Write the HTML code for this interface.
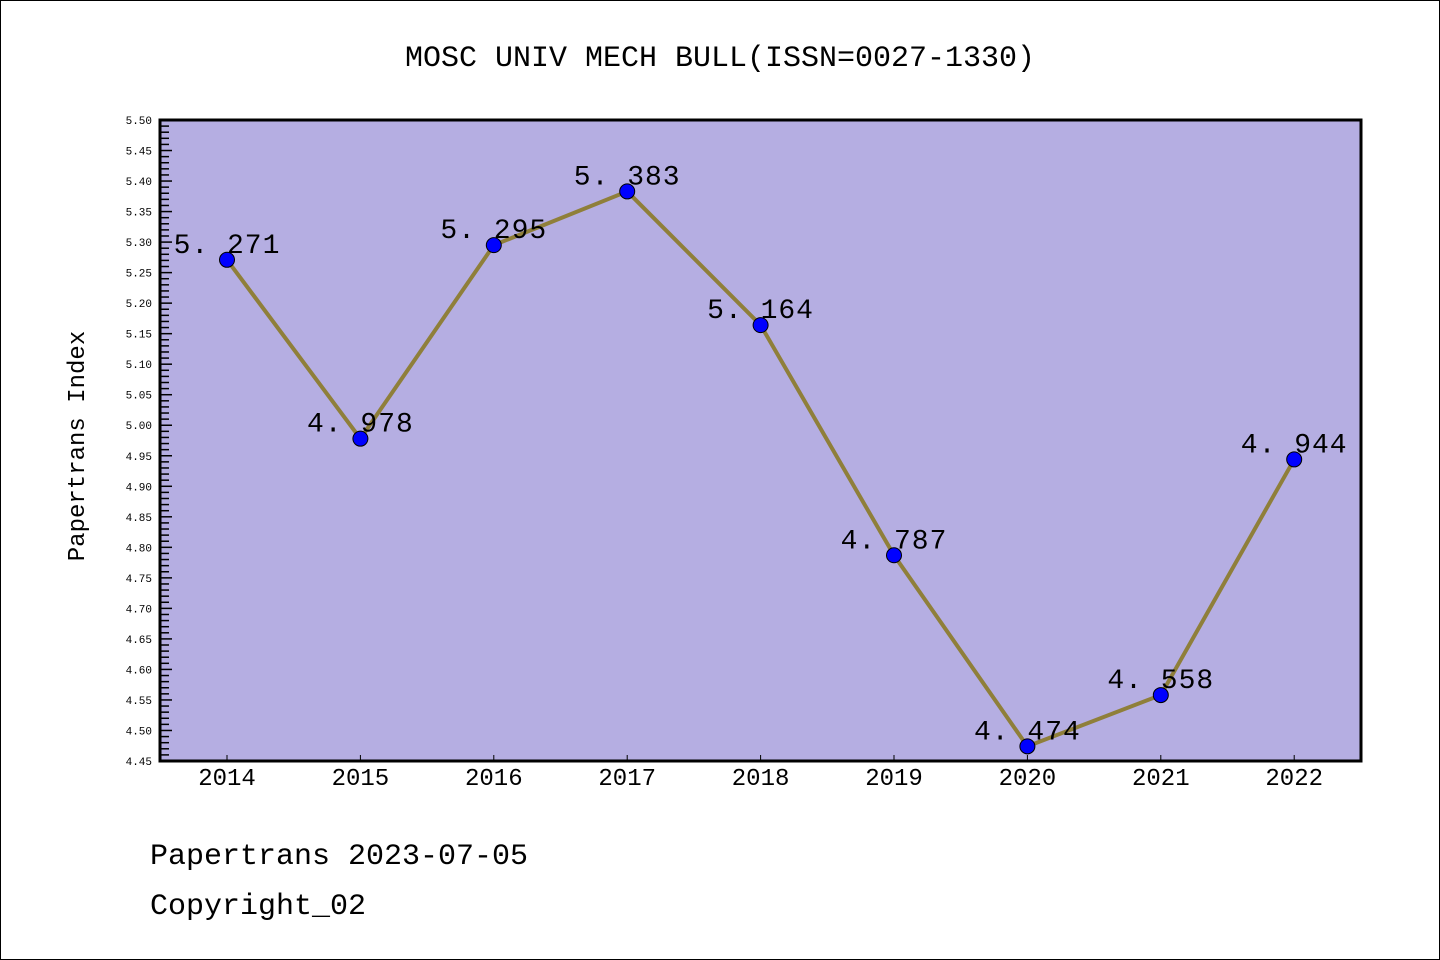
<!DOCTYPE html>
<html><head><meta charset="utf-8"><style>
body{margin:0;background:#fff}
svg{display:block}
text{font-family:"Liberation Mono","WenQuanYi Zen Hei",monospace}
</style></head><body>
<svg id="chart" width="1440" height="960" viewBox="0 0 1440 960" xmlns="http://www.w3.org/2000/svg">
<rect x="0.5" y="0.5" width="1439" height="959" fill="#fff" stroke="#000"/>
<text x="720" y="66" font-size="30" text-anchor="middle">MOSC UNIV MECH BULL(ISSN=0027-1330)</text>
<rect x="160" y="120" width="1201" height="641" fill="#b5aee2"/>
<g id="yaxis"></g>
<g id="xaxis"></g>
<g id="series"></g>
<rect x="160" y="120" width="1201" height="641" fill="none" stroke="#000" stroke-width="3"/>
<text transform="translate(84,446) rotate(-90)" font-size="24" text-anchor="middle">Papertrans Index</text>
<text x="150" y="864" font-size="30">Papertrans 2023-07-05</text>
<text x="150" y="914" font-size="30">Copyright_02</text>
</svg>
<script>
const categories=["2014","2015","2016","2017","2018","2019","2020","2021","2022"];
const values=[5.271,4.978,5.295,5.383,5.164,4.787,4.474,4.558,4.944];
const yTickLabels=["4.45","4.50","4.55","4.60","4.65","4.70","4.75","4.80","4.85","4.90","4.95","5.00","5.05","5.10","5.15","5.20","5.25","5.30","5.35","5.40","5.45","5.50"];
const NS="http://www.w3.org/2000/svg";
const yMin=4.45,yMax=5.50,yTop=120,yBot=761,xLeft=160;
const x0=227,xStep=133.4;
function y(v){return yBot-(v-yMin)/(yMax-yMin)*(yBot-yTop);}
function x(i){return x0+i*xStep;}
function mk(tag,attrs,parent){const e=document.createElementNS(NS,tag);for(const k in attrs)e.setAttribute(k,attrs[k]);parent.appendChild(e);return e;}
const ya=document.getElementById('yaxis'),xa=document.getElementById('xaxis'),sg=document.getElementById('series');
for(let k=0;k<=105;k++){
  const v=yMin+k*0.01,yy=y(v),major=k%5===0;
  const t=mk('line',{x1:xLeft,x2:xLeft+(major?12:9),y1:yy,y2:yy,stroke:'#000','stroke-width':1.5},ya);
  
  
}
yTickLabels.forEach(l=>{
  const t=mk('text',{x:152,y:y(parseFloat(l))+4,'font-size':11,'text-anchor':'end','font-family':'Liberation Sans'},ya);
  t.textContent=l;
  
  
});
categories.forEach((c,i)=>{
  const tk=mk('line',{x1:x(i),x2:x(i),y1:yBot,y2:yBot-6,stroke:'#000','stroke-width':1},xa);
  
  
  const t=mk('text',{x:x(i),y:785,'font-size':24,'text-anchor':'middle','font-family':'Liberation Sans'},xa);
  t.textContent=c;
  
  
});
const line=mk('polyline',{points:values.map((v,i)=>x(i)+','+y(v)).join(' '),fill:'none',stroke:'#8f7f3a','stroke-width':4},sg);


values.forEach((v,i)=>{
  const c=mk('circle',{cx:x(i),cy:y(v),r:7.5,fill:'#0000ff',stroke:'#000','stroke-width':1},sg);
  
  
  const t=mk('text',{x:x(i),y:y(v)-7,'font-size':28,'text-anchor':'middle','font-family':'Liberation Sans','letter-spacing':'1'},sg);
  t.textContent=v.toFixed(3).replace('.','. ');
  
  
});
</script>
</body></html>
